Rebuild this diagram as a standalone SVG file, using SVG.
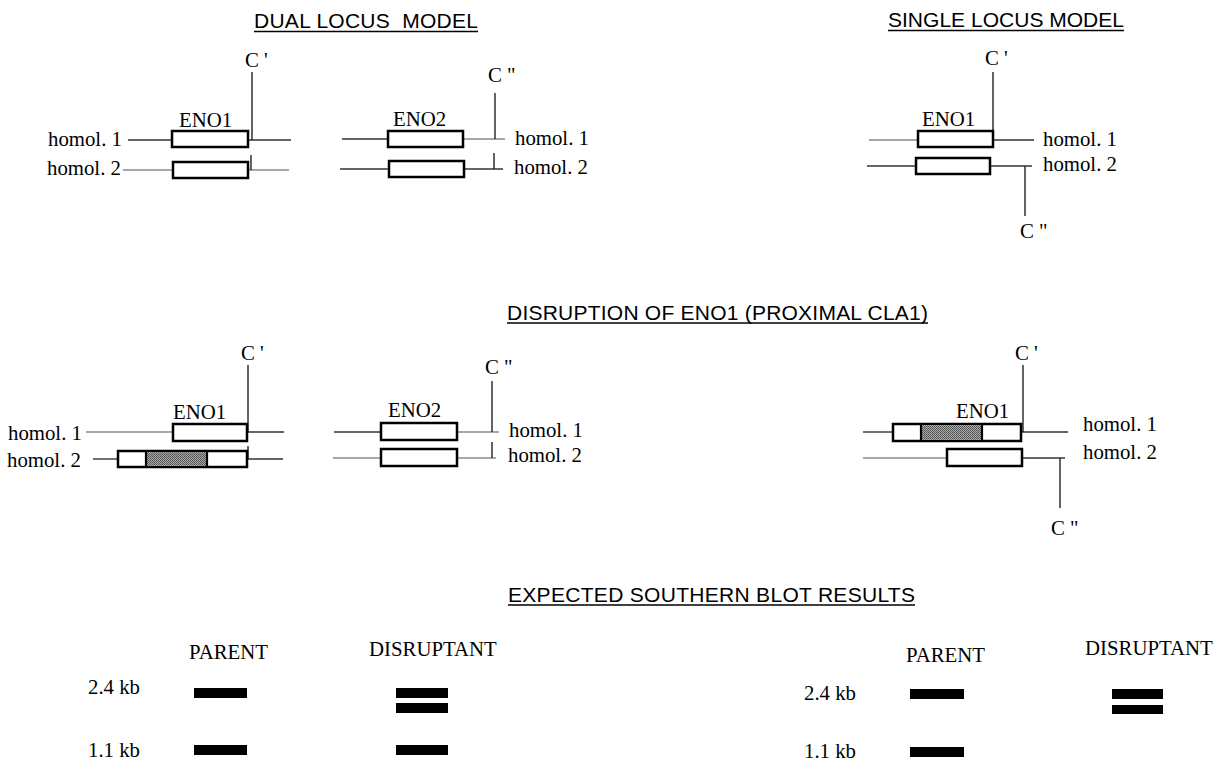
<svg xmlns="http://www.w3.org/2000/svg" width="1214" height="765" viewBox="0 0 1214 765">
<defs>
<pattern id="stip" width="2" height="2" patternUnits="userSpaceOnUse">
<rect width="2" height="2" fill="#a8a8a8"/>
<rect x="0" y="0" width="1" height="1" fill="#505050"/>
<rect x="1" y="1" width="1" height="1" fill="#606060"/>
</pattern>
</defs>
<style>
.h{font-family:"Liberation Sans",Arial,sans-serif;font-size:21px;fill:#000;white-space:pre}
.t{font-family:"Liberation Serif","Times New Roman",serif;font-size:20.8px;fill:#000}
.ul{stroke:#000;stroke-width:1.6}
.box{fill:#fff;stroke:#000;stroke-width:2.5}
.sh{fill:url(#stip);stroke:none}
.div{stroke:#000;stroke-width:2.2}
.l1{stroke:#333;stroke-width:1.4;fill:none}
.l2{stroke:#8a8a8a;stroke-width:1.4;fill:none}
.c{stroke:#222;stroke-width:1.4;fill:none}
.band{fill:#000}
</style>
<rect width="1214" height="765" fill="#fff"/>

<g id="headings">
<text class="h" x="254" y="28" textLength="224">DUAL LOCUS  MODEL</text>
<line class="ul" x1="254" y1="31.5" x2="478" y2="31.5"/>
<text class="h" x="888" y="27" textLength="236">SINGLE LOCUS MODEL</text>
<line class="ul" x1="888" y1="30.5" x2="1124" y2="30.5"/>
<text class="h" x="507" y="320" textLength="421">DISRUPTION OF ENO1 (PROXIMAL CLA1)</text>
<line class="ul" x1="507" y1="323" x2="928" y2="323"/>
<text class="h" x="508" y="602" textLength="407">EXPECTED SOUTHERN BLOT RESULTS</text>
<line class="ul" x1="508" y1="605" x2="915" y2="605"/>
</g>

<g id="connectors">
<line class="l1" x1="128" y1="140" x2="172" y2="140"/>
<line class="l1" x1="248" y1="140" x2="291" y2="140"/>
<line class="l2" x1="123" y1="170" x2="173" y2="170"/>
<line class="l2" x1="248" y1="170" x2="289" y2="170"/>
<line class="c" x1="252" y1="72" x2="252" y2="140"/>
<line class="c" x1="251" y1="155" x2="251" y2="170"/>
<line class="l1" x1="342" y1="139" x2="388" y2="139"/>
<line class="l2" x1="463" y1="139" x2="505" y2="139"/>
<line class="l1" x1="340" y1="169" x2="389" y2="169"/>
<line class="l1" x1="464" y1="169" x2="503" y2="169"/>
<line class="c" x1="495" y1="93" x2="495" y2="139"/>
<line class="c" x1="494" y1="153" x2="494" y2="169"/>
<line class="l2" x1="869" y1="140" x2="918" y2="140"/>
<line class="l1" x1="993" y1="140" x2="1034" y2="140"/>
<line class="l1" x1="867" y1="166" x2="916" y2="166"/>
<line class="l1" x1="990" y1="166" x2="1032" y2="166"/>
<line class="c" x1="993" y1="72" x2="993" y2="131"/>
<line class="c" x1="1025" y1="166" x2="1025" y2="216"/>
<line class="l2" x1="86" y1="432" x2="173" y2="432"/>
<line class="l1" x1="247" y1="432" x2="284" y2="432"/>
<line class="l1" x1="93" y1="459" x2="118" y2="459"/>
<line class="l1" x1="247" y1="459" x2="283" y2="459"/>
<line class="c" x1="248" y1="365" x2="248" y2="432"/>
<line class="c" x1="248" y1="446" x2="248" y2="459"/>
<line class="l1" x1="334" y1="432" x2="381" y2="432"/>
<line class="l2" x1="457" y1="432" x2="499" y2="432"/>
<line class="l2" x1="333" y1="458" x2="381" y2="458"/>
<line class="l2" x1="457" y1="458" x2="496" y2="458"/>
<line class="c" x1="492" y1="381" x2="492" y2="432"/>
<line class="c" x1="492" y1="442" x2="492" y2="458"/>
<line class="l1" x1="863" y1="432" x2="893" y2="432"/>
<line class="l1" x1="1021" y1="432" x2="1068" y2="432"/>
<line class="l2" x1="863" y1="458" x2="947" y2="458"/>
<line class="l1" x1="1022" y1="458" x2="1065" y2="458"/>
<line class="c" x1="1023" y1="365" x2="1023" y2="432"/>
<line class="c" x1="1060" y1="458" x2="1060" y2="508"/>
</g>

<g id="dual-eno1">
<text class="t" x="245" y="67">C '</text>
<text class="t" x="179" y="127">ENO1</text>
<rect class="box" x="172" y="131" width="76" height="16"/>
<rect class="box" x="173" y="162" width="75" height="16"/>
<text class="t" x="48" y="146">homol. 1</text>
<text class="t" x="47" y="175">homol. 2</text>
</g>

<g id="dual-eno2">
<text class="t" x="488" y="82">C "</text>
<text class="t" x="393" y="126">ENO2</text>
<rect class="box" x="388" y="131" width="75" height="16"/>
<rect class="box" x="389" y="161" width="75" height="16"/>
<text class="t" x="515" y="145">homol. 1</text>
<text class="t" x="514" y="174">homol. 2</text>
</g>

<g id="single-eno1">
<text class="t" x="985" y="65">C '</text>
<text class="t" x="922" y="126">ENO1</text>
<rect class="box" x="918" y="131" width="75" height="16"/>
<rect class="box" x="916" y="158" width="74" height="16"/>
<text class="t" x="1043" y="146">homol. 1</text>
<text class="t" x="1043" y="171">homol. 2</text>
<text class="t" x="1020" y="238">C "</text>
</g>

<g id="disr-dual-eno1">
<text class="t" x="241" y="360">C '</text>
<text class="t" x="173" y="419">ENO1</text>
<rect class="box" x="173" y="424" width="74" height="17"/>
<rect class="box" x="118" y="451" width="129" height="16"/>
<rect class="sh" x="146" y="452.2" width="61" height="13.6"/>
<line class="div" x1="146" y1="451" x2="146" y2="467"/>
<line class="div" x1="207" y1="451" x2="207" y2="467"/>
<text class="t" x="8" y="440">homol. 1</text>
<text class="t" x="7" y="467">homol. 2</text>
</g>

<g id="disr-dual-eno2">
<text class="t" x="485" y="374">C "</text>
<text class="t" x="388" y="417">ENO2</text>
<rect class="box" x="381" y="423" width="76" height="17"/>
<rect class="box" x="381" y="449" width="76" height="17"/>
<text class="t" x="509" y="437">homol. 1</text>
<text class="t" x="508" y="462">homol. 2</text>
</g>

<g id="disr-single-eno1">
<text class="t" x="1015" y="360">C '</text>
<text class="t" x="956" y="418">ENO1</text>
<rect class="box" x="893" y="424" width="128" height="17"/>
<rect class="sh" x="921" y="425.2" width="61" height="14.6"/>
<line class="div" x1="921" y1="424" x2="921" y2="441"/>
<line class="div" x1="982" y1="424" x2="982" y2="441"/>
<rect class="box" x="947" y="449" width="75" height="17"/>
<text class="t" x="1083" y="431">homol. 1</text>
<text class="t" x="1083" y="459">homol. 2</text>
<text class="t" x="1051" y="535">C "</text>
</g>

<g id="blot-left">
<text class="t" x="189" y="659">PARENT</text>
<text class="t" x="369" y="656">DISRUPTANT</text>
<text class="t" x="88" y="694">2.4 kb</text>
<text class="t" x="88" y="757">1.1 kb</text>
<rect class="band" x="194" y="688" width="53" height="10"/>
<rect class="band" x="396" y="688" width="52" height="10"/>
<rect class="band" x="396" y="703" width="52" height="10"/>
<rect class="band" x="194" y="745" width="53" height="10"/>
<rect class="band" x="396" y="745" width="52" height="10"/>
</g>

<g id="blot-right">
<text class="t" x="906" y="662">PARENT</text>
<text class="t" x="1085" y="655">DISRUPTANT</text>
<text class="t" x="804" y="700">2.4 kb</text>
<text class="t" x="804" y="758">1.1 kb</text>
<rect class="band" x="910" y="689" width="54" height="10"/>
<rect class="band" x="1112" y="689" width="51" height="10"/>
<rect class="band" x="1112" y="705" width="51" height="9"/>
<rect class="band" x="910" y="747" width="54" height="10"/>
</g>
</svg>
